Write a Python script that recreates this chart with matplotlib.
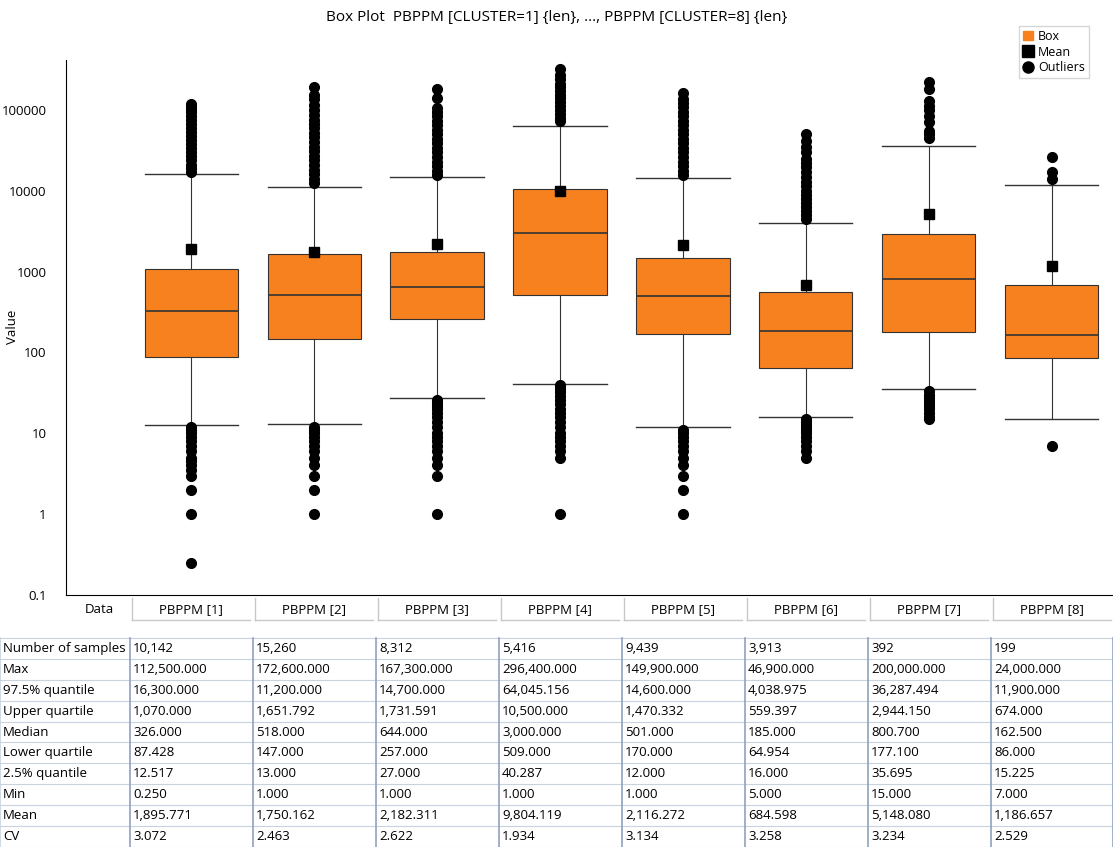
import matplotlib
matplotlib.use("Agg")
import matplotlib.pyplot as plt
from matplotlib.lines import Line2D
from matplotlib.patches import Patch

categories = ["PBPPM [1]", "PBPPM [2]", "PBPPM [3]", "PBPPM [4]",
              "PBPPM [5]", "PBPPM [6]", "PBPPM [7]", "PBPPM [8]"]
n_samples = [10142, 15260, 8312, 5416, 9439, 3913, 392, 199]
max_v = [112500.0, 172600.0, 167300.0, 296400.0, 149900.0, 46900.0, 200000.0, 24000.0]
q975 = [16300.0, 11200.0, 14700.0, 64045.156, 14600.0, 4038.975, 36287.494, 11900.0]
q3 = [1070.0, 1651.792, 1731.591, 10500.0, 1470.332, 559.397, 2944.150, 674.0]
med = [326.0, 518.0, 644.0, 3000.0, 501.0, 185.0, 800.7, 162.5]
q1 = [87.428, 147.0, 257.0, 509.0, 170.0, 64.954, 177.1, 86.0]
q025 = [12.517, 13.0, 27.0, 40.287, 12.0, 16.0, 35.695, 15.225]
min_v = [0.25, 1.0, 1.0, 1.0, 1.0, 5.0, 15.0, 7.0]
mean_v = [1895.771, 1750.162, 2182.311, 9804.119, 2116.272, 684.598, 5148.080, 1186.657]
cv = [3.072, 2.463, 2.622, 1.934, 3.134, 3.258, 3.234, 2.529]

outliers = [
    [17000, 19000, 21000, 24000, 27000, 30000, 34000, 38000, 43000, 48000, 54000, 60000, 67000, 75000, 84000, 94000, 104000, 112500, 120000,
     12, 11, 10, 9, 8, 7, 6, 5, 4.5, 4, 3.5, 3, 2, 1, 0.25],
    [12500, 14000, 16000, 18000, 21000, 24000, 27000, 31000, 35000, 40000, 46000, 52000, 59000, 67000, 76000, 87000, 100000, 115000, 135000, 155000, 190000,
     12, 11, 10, 9, 8, 7, 6, 5, 4, 3, 2, 1],
    [15500, 17500, 20000, 23000, 26000, 30000, 34000, 39000, 44000, 50000, 57000, 65000, 74000, 84000, 95000, 105000, 140000, 180000,
     26, 24, 22, 20, 18, 16, 14, 12, 10, 9, 8, 7, 6, 5, 4, 3, 1],
    [72000, 80000, 90000, 100000, 112000, 125000, 140000, 155000, 170000, 190000, 210000, 240000, 270000, 320000,
     40, 38, 35, 32, 29, 26, 23, 20, 18, 16, 14, 12, 10, 9, 8, 7, 6, 5, 1],
    [15500, 17500, 20000, 23000, 26000, 30000, 34000, 39000, 44000, 50000, 57000, 65000, 74000, 84000, 95000, 108000, 122000, 137000, 160000,
     11, 10, 9, 8, 7, 6, 5, 4, 3, 2, 1],
    [4500, 5000, 5600, 6300, 7000, 8000, 9000, 10000, 11500, 13000, 15000, 17000, 19500, 22000, 25000, 30000, 35000, 41000, 50000,
     15, 14, 13, 12, 11, 10, 9, 8, 7, 6, 5],
    [45000, 50000, 55000, 70000, 85000, 100000, 112000, 130000, 180000, 220000,
     33, 30, 28, 26, 24, 22, 20, 18, 16, 15],
    [14000, 17000, 26000, 7],
]

W, H = 1113, 847
fig = plt.figure(figsize=(W / 100, H / 100), dpi=100)
plt.rcParams['font.family'] = ['Open Sans', 'DejaVu Sans']

def fx(px): return px / W
def fy(py): return 1 - py / H

ax = fig.add_axes([fx(66), fy(595), fx(1113 - 66), fy(60) - fy(595)])
orange = "#F7811E"
positions = list(range(1, 9))
stats = []
for i in range(8):
    stats.append(dict(med=med[i], q1=q1[i], q3=q3[i], whislo=q025[i], whishi=q975[i],
                      mean=mean_v[i], fliers=outliers[i], label=categories[i]))
ax.bxp(stats, positions=positions, widths=0.76, capwidths=0.76, patch_artist=True, showmeans=True,
       boxprops=dict(facecolor=orange, edgecolor="#333333", linewidth=0.8),
       medianprops=dict(color="#333333", linewidth=1.2),
       whiskerprops=dict(color="#333333", linewidth=0.8),
       capprops=dict(color="#333333", linewidth=1.0),
       meanprops=dict(marker="s", markerfacecolor="black", markeredgecolor="black", markersize=7),
       flierprops=dict(marker="o", markerfacecolor="black", markeredgecolor="black", markersize=7))
ax.set_yscale("log")
ax.set_ylim(0.1, 415000)
ax.set_xlim(-0.02, 8.5)
ax.set_yticks([0.1, 1, 10, 100, 1000, 10000, 100000])
ax.set_yticklabels(["0.1", "1", "10", "100", "1000", "10000", "100000"], fontsize=9.5)
ax.minorticks_off()
ax.tick_params(axis="y", length=0, pad=14)
ax.set_xticks([0.25] + positions)
ax.set_xticklabels(["Data"] + categories, fontsize=9.5)
ax.tick_params(axis="x", length=0, pad=6)
for s in ["top", "right"]:
    ax.spines[s].set_visible(False)
fig.text(fx(12), fy(327), "Value", rotation=90, ha="center", va="center", fontsize=9.5)
for b in [0.5 + k for k in range(8)]:
    ax.plot([b + 0.02, b + 0.02], [0.092, 0.049], color="#C8C8C8", lw=1, clip_on=False)
    ax.plot([b + 0.02, b + 0.98], [0.049, 0.049], color="#C8C8C8", lw=1, clip_on=False)

fig.text(0.5, fy(18), "Box Plot  PBPPM [CLUSTER=1] {len}, ..., PBPPM [CLUSTER=8] {len}",
         ha="center", va="center", fontsize=11)

handles = [Patch(facecolor=orange, edgecolor=orange, label="Box"),
           Line2D([], [], marker="s", color="black", ls="", markersize=8, label="Mean"),
           Line2D([], [], marker="o", color="black", ls="", markersize=8, label="Outliers")]
fig.legend(handles=handles, loc="upper left", bbox_to_anchor=(fx(1013), fy(20)),
           fontsize=9, handlelength=0.8, handletextpad=0.4, borderpad=0.3,
           labelspacing=0.2, fancybox=False, edgecolor="#CCCCCC")

row_names = ["Number of samples", "Max", "97.5% quantile", "Upper quartile", "Median",
             "Lower quartile", "2.5% quantile", "Min", "Mean", "CV"]
rows = [[f"{v:,}" for v in n_samples]] + \
       [[f"{v:,.3f}" for v in arr] for arr in [max_v, q975, q3, med, q1, q025, min_v, mean_v, cv]]
tax = fig.add_axes([0, 0, 1, 1]); tax.set_xlim(0, W); tax.set_ylim(H, 0); tax.axis("off")
col_edges = [0, 130, 253, 376, 499, 622, 745, 868, 991, 1113]
top, rh = 638, 20.9
for r in range(11):
    tax.plot([0, W], [top + r * rh] * 2, color="#C9D3DF", lw=0.8)
for c in col_edges:
    tax.plot([c, c], [top, top + 10 * rh], color="#8FA3BD" if c else "#C9D3DF", lw=1.2)
for r in range(10):
    y = top + r * rh + rh / 2
    tax.text(3, y, row_names[r], va="center", fontsize=9.5)
    for c in range(8):
        tax.text(col_edges[c + 1] + 3, y, rows[r][c], va="center", fontsize=9.5)

fig.savefig("out.png", dpi=100)
